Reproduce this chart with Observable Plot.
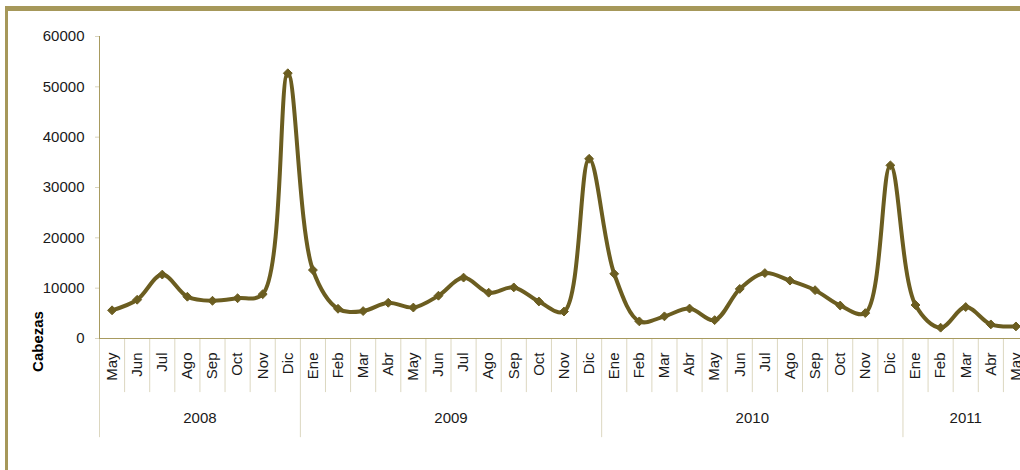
<!DOCTYPE html>
<html><head><meta charset="utf-8">
<script src="https://cdn.jsdelivr.net/npm/d3@7"></script>
<script src="https://cdn.jsdelivr.net/npm/@observablehq/plot@0.6"></script>
<style>
html,body{margin:0;padding:0;background:#fff;overflow:hidden;width:1020px;height:470px;}
#wrap{position:relative;width:1020px;height:470px;overflow:hidden;}
#chart{position:absolute;left:0;top:0;width:1030px;height:470px;}
#chart svg{max-width:none !important;width:1030px;height:470px;}
.bar-top{position:absolute;left:4.5px;top:5.5px;width:1030px;height:5px;background:#a6985a;}
.bar-left{position:absolute;left:4.5px;top:5.5px;width:3.5px;height:470px;background:#a6985a;}
</style></head>
<body><div id="wrap"><div id="chart"></div><div class="bar-top"></div><div class="bar-left"></div></div>
<script>
const months = ["May","Jun","Jul","Ago","Sep","Oct","Nov","Dic",
  "Ene","Feb","Mar","Abr","May","Jun","Jul","Ago","Sep","Oct","Nov","Dic",
  "Ene","Feb","Mar","Abr","May","Jun","Jul","Ago","Sep","Oct","Nov","Dic",
  "Ene","Feb","Mar","Abr","May"];
const yearLabels = ["2008","2009","2010","2011"];
const monthsPerYear = [8, 12, 12, 5];
const cabezas = [5600, 7700, 12700, 8300, 7500, 8000, 8800, 52700,
  13600, 5900, 5450, 7100, 6150, 8500, 12100, 9100, 10150, 7350, 5350, 35700,
  12850, 3400, 4400, 5950, 3650, 9850, 13000, 11500, 9600, 6550, 5050, 34400,
  6650, 2150, 6250, 2800, 2400];
const yTicks = [0, 10000, 20000, 30000, 40000, 50000, 60000];
const yLabel = "Cabezas";

// build table
const rows = months.map((m, i) => ({i, month: m, value: cabezas[i]}));
const yearStarts = [];
let acc = 0;
monthsPerYear.forEach(n => { yearStarts.push(acc); acc += n; });
const years = yearLabels.map((y, k) => ({
  label: y,
  start: yearStarts[k],
  end: yearStarts[k] + monthsPerYear[k] - 1
}));
const yearBounds = [years[0].start - 0.5, ...years.map(y => y.end + 0.5)];
const monthBounds = d3.range(1, months.length).map(i => i - 0.5)
  .filter(b => !yearBounds.includes(b));

const SEP_BOTTOM = -10750;   // month separators reach below the axis
const YEAR_BOTTOM = -19700;  // year separators reach further
const lineColor = "#6b5d20";
const axisColor = "#a89b60";
const sepColor = "#dcd7c0";

const chart = Plot.plot({
  width: 1030,
  height: 470,
  marginLeft: 99,
  marginRight: 2,
  marginTop: 36,
  marginBottom: 132,
  x: {domain: [-0.5, months.length - 0.5], axis: null},
  y: {domain: [0, 60000], axis: null},
  style: {fontFamily: "'Liberation Sans', Arial, sans-serif", fontSize: "15px", color: "#1a1a1a", background: "transparent", overflow: "visible", maxWidth: "none"},
  marks: [
    Plot.ruleX(monthBounds, {x: d => d, y1: 0, y2: SEP_BOTTOM, stroke: sepColor, strokeWidth: 1}),
    Plot.ruleX(yearBounds, {x: d => d, y1: 0, y2: YEAR_BOTTOM, stroke: sepColor, strokeWidth: 1}),
    Plot.axisY({ticks: yTicks, tickSize: 4, tickPadding: 11, tickFormat: d3.format("d"), stroke: "#d9d4bd", fill: "#1a1a1a", fontSize: 15, label: null}),
    Plot.ruleX([-0.5], {y1: 0, y2: 60000, stroke: axisColor, strokeWidth: 1}),
    Plot.ruleY([0], {stroke: axisColor, strokeWidth: 1.2}),
    Plot.line(rows, {x: "i", y: "value", curve: "catmull-rom", stroke: lineColor, strokeWidth: 4}),
    Plot.dot(rows, {x: "i", y: "value", symbol: "diamond2", r: 4, fill: lineColor, stroke: lineColor, strokeWidth: 1}),
    Plot.text(rows, {x: "i", y: 0, text: "month", rotate: -90, textAnchor: "end", dy: 14, fill: "#1a1a1a", fontSize: 15}),
    Plot.text(years, {x: d => (d.start + d.end) / 2, y: 0, text: "label", dy: 80, fill: "#1a1a1a", fontSize: 15}),
    Plot.text([yLabel], {frameAnchor: "left", y: 0, text: d => d, rotate: -90, textAnchor: "middle", dx: -61, dy: 3, fontWeight: "bold", fill: "#000", fontSize: 15})
  ]
});
document.getElementById("chart").appendChild(chart);
</script>
</body></html>
